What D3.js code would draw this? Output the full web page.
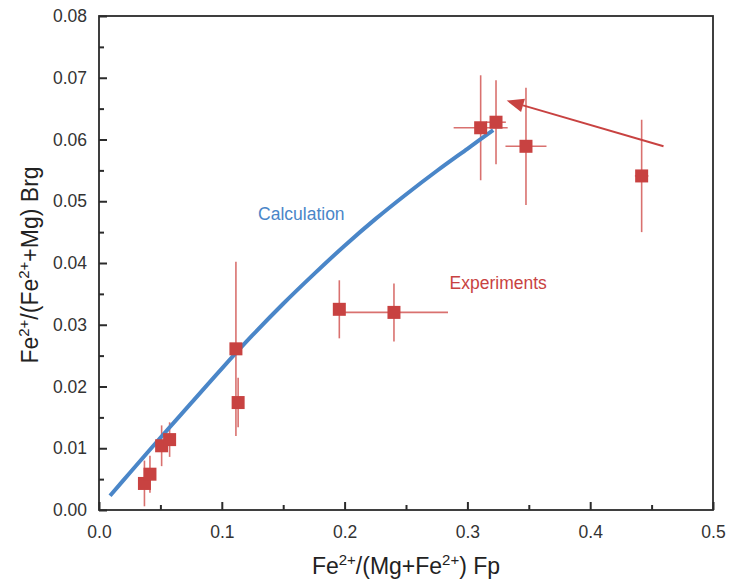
<!DOCTYPE html>
<html><head><meta charset="utf-8">
<script src="https://cdn.jsdelivr.net/npm/d3@7"></script>
<style>body{margin:0;background:#fff;}svg{display:block;font-family:"Liberation Sans",Arial,sans-serif;}</style>
</head><body>
<svg id="c" width="732" height="585"></svg>
<script>
// Calculation curve
const calcX = [0.009,0.025,0.05,0.075,0.1,0.125,0.15,0.175,0.2,0.225,0.25,0.275,0.3,0.321];
const calcY = [0.0023,0.0060,0.0117,0.0173,0.0229,0.0283,0.0334,0.0382,0.0428,0.0471,0.0511,0.0549,0.0585,0.0615];
// Experiments
const expX    = [0.037,0.0415,0.051,0.0575,0.1115,0.1133,0.1957,0.2402,0.3108,0.3233,0.3477,0.4419];
const expY    = [0.0043,0.0058,0.0104,0.0114,0.0261,0.0174,0.0325,0.0320,0.0619,0.0628,0.0589,0.0541];
const expXErr = [0,0,0,0,0,0,0,0.044,0.022,0.008,0.0167,0.0055];
const expYErr = [0.0037,0.003,0.0033,0.0028,0.0141,0.004,0.0047,0.0047,0.0085,0.0068,0.0095,0.0091];
// Arrow (from, to)
const arrowFrom = [0.4597,0.0589];
const arrowTo = [0.332,0.0663];
const xTicks = [0,0.1,0.2,0.3,0.4,0.5];
const yTicks = [0,0.01,0.02,0.03,0.04,0.05,0.06,0.07,0.08];

const svg = d3.select("#c");
const L=99,R=713,T=16,B=510;
const x = d3.scaleLinear().domain([0,0.5]).range([L,R]);
const y = d3.scaleLinear().domain([0,0.08]).range([B,T]);
const blue="#4a86c8", red="#c84241", redLight="#d9716f", ink="#2b2b2b";

// frame
svg.append("rect").attr("x",L).attr("y",T).attr("width",R-L).attr("height",B-T)
  .attr("fill","none").attr("stroke",ink).attr("stroke-width",1.8);

function styleAxis(g){
  g.select(".domain").remove();
  g.selectAll(".tick line").attr("stroke",ink).attr("stroke-width",2);
}
// x axis
const xa = svg.append("g").attr("transform",`translate(0,${B})`)
  .call(d3.axisBottom(x).tickValues(xTicks).tickFormat(d3.format(".1f")).tickSizeInner(-8).tickSizeOuter(0).tickPadding(16));
styleAxis(xa);
xa.selectAll("text").attr("font-size",17.5).attr("fill","#333");
const xm = svg.append("g").attr("transform",`translate(0,${B})`)
  .call(d3.axisBottom(x).tickValues(d3.range(0.05,0.5,0.1)).tickFormat("").tickSizeInner(-5).tickSizeOuter(0));
styleAxis(xm);

// y axis
const ya = svg.append("g").attr("transform",`translate(${L},0)`)
  .call(d3.axisLeft(y).tickValues(yTicks).tickFormat(d3.format(".2f")).tickSizeInner(-8).tickSizeOuter(0).tickPadding(12));
styleAxis(ya);
ya.selectAll("text").attr("font-size",17.5).attr("fill","#333");
const ym = svg.append("g").attr("transform",`translate(${L},0)`)
  .call(d3.axisLeft(y).tickValues(d3.range(0.005,0.08,0.01)).tickFormat("").tickSizeInner(-5).tickSizeOuter(0));
styleAxis(ym);

// axis titles
const xt = svg.append("text").attr("x",406).attr("y",574).attr("text-anchor","middle")
  .attr("font-size",23).attr("fill","#222");
xt.append("tspan").text("Fe");
xt.append("tspan").attr("dy",-9).attr("font-size",15).text("2+");
xt.append("tspan").attr("dy",9).text("/(Mg+Fe");
xt.append("tspan").attr("dy",-9).attr("font-size",15).text("2+");
xt.append("tspan").attr("dy",9).text(") Fp");

const yt = svg.append("g").attr("transform","translate(38,265) rotate(-90)").append("text").attr("text-anchor","middle")
  .attr("font-size",23).attr("fill","#222");
yt.append("tspan").text("Fe");
yt.append("tspan").attr("dy",-9).attr("font-size",15).text("2+");
yt.append("tspan").attr("dy",9).text("/(Fe");
yt.append("tspan").attr("dy",-9).attr("font-size",15).text("2+");
yt.append("tspan").attr("dy",9).text("+Mg) Brg");

// error bars
const pts = expX.map((v,i)=>({x:v,y:expY[i],ex:expXErr[i],ey:expYErr[i]}));
const eg = svg.append("g").attr("stroke",redLight).attr("stroke-width",1.6);
eg.selectAll(".ev").data(pts).join("line")
  .attr("x1",d=>x(d.x)).attr("x2",d=>x(d.x)).attr("y1",d=>y(d.y-d.ey)).attr("y2",d=>y(d.y+d.ey));
eg.selectAll(".eh").data(pts.filter(d=>d.ex>0)).join("line")
  .attr("x1",d=>x(d.x-d.ex)).attr("x2",d=>x(d.x+d.ex)).attr("y1",d=>y(d.y)).attr("y2",d=>y(d.y));

// calculation line
svg.append("path").datum(calcX.map((v,i)=>[v,calcY[i]]))
  .attr("d",d3.line().x(d=>x(d[0])).y(d=>y(d[1])).curve(d3.curveCatmullRom.alpha(0.5)))
  .attr("fill","none").attr("stroke",blue).attr("stroke-width",4);

// squares
const s=13;
svg.append("g").selectAll("rect").data(pts).join("rect")
  .attr("x",d=>x(d.x)-s/2).attr("y",d=>y(d.y)-s/2).attr("width",s).attr("height",s).attr("fill",red);

// arrow
const ax1=x(arrowFrom[0]), ay1=y(arrowFrom[1]), ax2=x(arrowTo[0]), ay2=y(arrowTo[1]);
const ang=Math.atan2(ay2-ay1,ax2-ax1);
const hl=17, hw=7;
const bx=ax2-hl*Math.cos(ang), by=ay2-hl*Math.sin(ang);
svg.append("line").attr("x1",ax1).attr("y1",ay1).attr("x2",bx).attr("y2",by)
  .attr("stroke",red).attr("stroke-width",2);
svg.append("path").attr("d",`M${ax2},${ay2}L${bx-hw*Math.sin(ang)},${by+hw*Math.cos(ang)}L${bx+hw*Math.sin(ang)},${by-hw*Math.cos(ang)}Z`)
  .attr("fill",red);

// labels
svg.append("text").attr("x",x(0.1295)).attr("y",y(0.0470)).attr("font-size",17.5).attr("fill",blue).text("Calculation");
svg.append("text").attr("x",x(0.2855)).attr("y",y(0.0358)).attr("font-size",17.5).attr("fill",red).text("Experiments");
</script>
</body></html>
